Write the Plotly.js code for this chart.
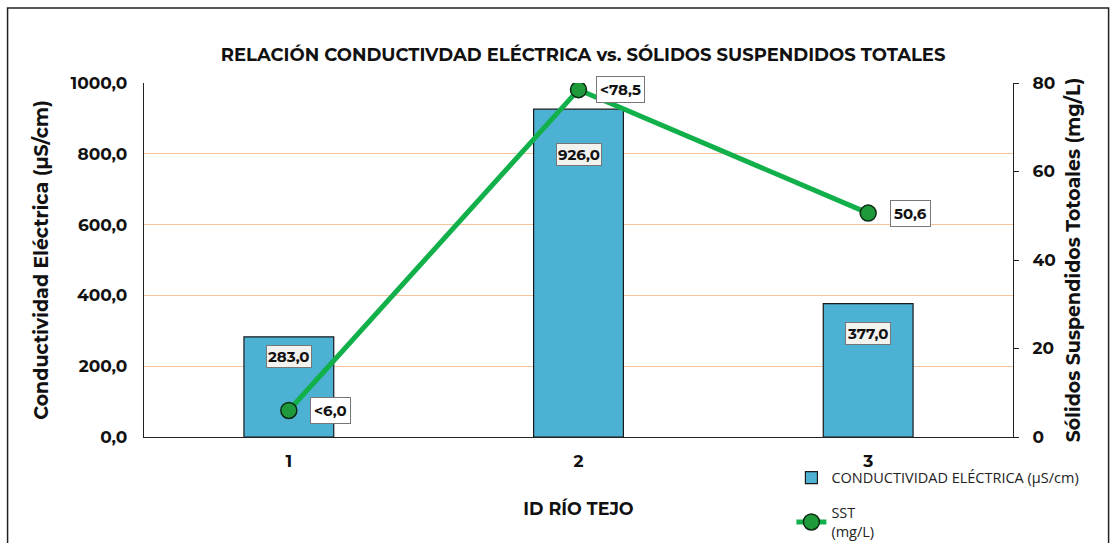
<!DOCTYPE html>
<html><head><meta charset="utf-8">
<script src="https://cdn.plot.ly/plotly-3.0.1.min.js"></script>
<style>html,body{margin:0;padding:0;background:#fff}#c{width:1118px;height:543px}</style>
</head><body><div id="c"></div>
<script>
const categories = ['1', '2', '3'];
const conductividad = [283.0, 926.0, 377.0];
const sst = [6.0, 78.5, 50.6];
const sstLabels = ['<6,0', '<78,5', '50,6'];
const condLabels = ['283,0', '926,0', '377,0'];

const fontFam = 'Montserrat, "Open Sans", "DejaVu Sans", sans-serif';
const barShift = [-20, -45, -30];

const traces = [
  {
    type: 'bar', x: categories, y: conductividad, name: 'CONDUCTIVIDAD ELÉCTRICA (µS/cm)',
    legendgroup: 'a',
    marker: {color: '#4DB1D3', line: {color: '#1a1a1a', width: 1.2}},
    width: 0.31, hoverinfo: 'x+y'
  },
  {
    type: 'scatter', mode: 'lines+markers', x: categories, y: sst, yaxis: 'y2',
    name: 'SST<br>(mg/L)', legendgroup: 'b',
    line: {color: '#12B04B', width: 5},
    marker: {size: 16, color: '#1E9A3A', line: {color: '#0b2b12', width: 1.5}}
  }
];

const annotations = [];
categories.forEach((c, i) => {
  annotations.push({
    x: i, y: conductividad[i], xref: 'x', yref: 'y', text: condLabels[i],
    showarrow: false, yshift: barShift[i],
    font: {family: fontFam, size: 15, color: '#111', weight: 700},
    bgcolor: '#F2F2EE', bordercolor: '#777', borderwidth: 1, borderpad: 1
  });
  annotations.push({
    x: i, y: sst[i], xref: 'x', yref: 'y2', text: sstLabels[i],
    showarrow: false, xshift: 42,
    font: {family: fontFam, size: 15, color: '#111', weight: 700},
    bgcolor: '#FFFFFF', bordercolor: '#777', borderwidth: 1, borderpad: 3
  });
});

const layout = {
  width: 1118, height: 543,
  margin: {l: 144, r: 105, t: 83, b: 106, autoexpand: false},
  paper_bgcolor: '#fff', plot_bgcolor: '#fff',
  separators: ',.',
  showlegend: true,
  title: {text: 'RELACIÓN CONDUCTIVDAD ELÉCTRICA vs. SÓLIDOS SUSPENDIDOS TOTALES',
    font: {family: fontFam, size: 18, color: '#111', weight: 700}, x: 0.5215, xanchor: 'center', y: 0.9, yanchor: 'middle'},
  xaxis: {
    type: 'category', showgrid: false, showline: true, linecolor: '#222', linewidth: 1.2,
    automargin: false, range: [-0.5, 2.5],
    ticks: '', ticklabelstandoff: 8,
    tickfont: {family: fontFam, size: 17, color: '#111', weight: 700},
    title: {text: 'ID RÍO TEJO', font: {family: fontFam, size: 17.5, color: '#111', weight: 700}, standoff: 33}
  },
  yaxis: {
    range: [0, 1000], dtick: 200, tickformat: '.1f', automargin: false,
    showgrid: true, gridcolor: '#F8C49A', gridwidth: 1,
    showline: true, linecolor: '#222', linewidth: 1.2, zeroline: false,
    ticks: '', ticklabelstandoff: 12,
    tickfont: {family: fontFam, size: 17, color: '#111', weight: 700},
    title: {text: 'Conductividad Eléctrica (µS/cm)', font: {family: fontFam, size: 19, color: '#111', weight: 700}, standoff: 17}
  },
  yaxis2: {
    overlaying: 'y', side: 'right', range: [0, 80], dtick: 20, tickformat: 'd', automargin: false,
    showgrid: false, showline: true, linecolor: '#222', linewidth: 1.2, zeroline: false,
    ticks: 'outside', ticklen: 5, tickcolor: '#222', ticklabelstandoff: 10,
    tickfont: {family: fontFam, size: 17, color: '#111', weight: 700},
    title: {text: 'Sólidos Suspendidos Totoales (mg/L)', font: {family: fontFam, size: 19, color: '#111', weight: 700}, standoff: 11}
  },
  legend: {
    x: 0.745, y: -0.07, xanchor: 'left', yanchor: 'top', orientation: 'v',
    font: {family: '"Open Sans", sans-serif', size: 14.5, color: '#222'},
    bgcolor: 'rgba(0,0,0,0)', tracegroupgap: 13, itemwidth: 30
  },
  annotations: annotations,
  shapes: [{type: 'rect', xref: 'paper', yref: 'paper', x0: -0.157, x1: 1.11, y0: -0.6, y1: 1.212,
    line: {color: '#222', width: 1.5}, fillcolor: 'rgba(0,0,0,0)', layer: 'below'}],
  bargap: 0.69
};

Plotly.newPlot('c', traces, layout, {displayModeBar: false, staticPlot: true});
</script></body></html>
